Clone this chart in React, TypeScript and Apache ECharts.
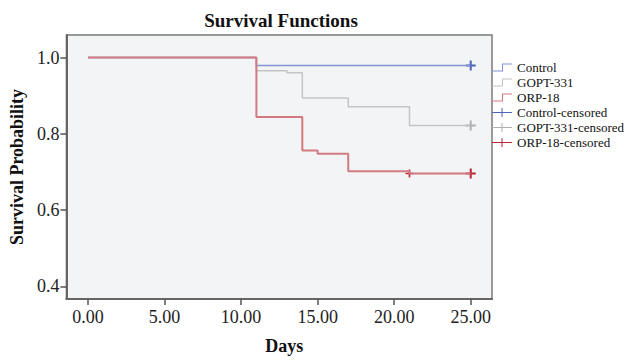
import React, { useEffect, useRef } from "react";
import * as echarts from "echarts";

const controlSteps: [number, number][] = [[0, 1.0], [11, 0.979], [25, 0.979]];
const goptSteps: [number, number][] = [[0, 1.0], [11, 0.965], [13, 0.96], [14, 0.894], [17, 0.871], [21, 0.822], [25, 0.822]];
const orpSteps: [number, number][] = [[0, 1.0], [11, 0.844], [14, 0.756], [15, 0.748], [17, 0.702], [21, 0.696], [25, 0.696]];

const controlCensored: [number, number][] = [[25, 0.979]];
const goptCensored: [number, number][] = [[25, 0.822]];
const orpCensored: [number, number][] = [[21, 0.696], [25, 0.696]];

const xTicks = [0, 5, 10, 15, 20, 25];
const yTicks = [0.4, 0.6, 0.8, 1.0];

const seriesNames = ["Control", "GOPT-331", "ORP-18", "Control-censored", "GOPT-331-censored", "ORP-18-censored"];

const FONT = "Liberation Serif";
const STEP_ICON = "path://M0,7H10V0H20V1H11V8H0Z";
const PLUS_ICON = "path://M0,4H20V5H0Z M9.5,0H10.5V9H9.5Z";
const PLUS_SYMBOL = "path://M4,0H6V4H10V6H6V10H4V6H0V4H4Z";

export default function App() {
  const ref = useRef<HTMLDivElement>(null);
  useEffect(() => {
    if (!ref.current) return;
    const chart = echarts.init(ref.current, null, { renderer: "svg" });
    const lineColors = ["#8494d4", "#c4c4c4", "#d27a82"];
    const censorColors = ["#4c63b6", "#b0b0b0", "#b82434"];
    chart.setOption({
      animation: false,
      backgroundColor: "#ffffff",
      title: {
        text: "Survival Functions",
        left: 276,
        textAlign: "center",
        top: 6,
        textStyle: { fontFamily: FONT, fontSize: 19, fontWeight: "bold", color: "#111" },
      },
      legend: {
        orient: "vertical",
        left: 492,
        top: 61,
        itemWidth: 20,
        itemHeight: 9,
        itemGap: 2,
        padding: 0,
        textStyle: { fontFamily: FONT, fontSize: 13, color: "#111" },
        data: seriesNames.map((n, i) => ({ name: n, icon: i < 3 ? STEP_ICON : PLUS_ICON })),
      },
      grid: {
        left: 64,
        top: 35,
        right: 137,
        bottom: 59,
        show: true,
        backgroundColor: "#f3f4f6",
        borderColor: "#7a7a7a",
        borderWidth: 1.5,
      },
      xAxis: {
        type: "value",
        min: -1.41,
        max: 26.39,
        name: "Days",
        nameLocation: "middle",
        nameGap: 38,
        nameTextStyle: { fontFamily: FONT, fontSize: 18, fontWeight: "bold", color: "#111", padding: [0, 0, 0, 10] },
        axisLine: { show: true, onZero: false, lineStyle: { color: "#666", width: 2 } },
        axisTick: { show: true, customValues: xTicks, length: 6, lineStyle: { color: "#555", width: 1.5 } },
        axisLabel: {
          customValues: xTicks,
          formatter: (v: number) => v.toFixed(2),
          fontFamily: FONT,
          fontSize: 18,
          color: "#222",
          margin: 9,
        },
        splitLine: { show: false },
      },
      yAxis: {
        type: "value",
        min: 0.367,
        max: 1.059,
        name: "Survival Probability",
        nameLocation: "middle",
        nameGap: 38,
        nameTextStyle: { fontFamily: FONT, fontSize: 18, fontWeight: "bold", color: "#111" },
        axisLine: { show: true, onZero: false, lineStyle: { color: "#666", width: 2 } },
        axisTick: { show: true, customValues: yTicks, length: 6, lineStyle: { color: "#555", width: 1.5 } },
        axisLabel: {
          customValues: yTicks,
          formatter: (v: number) => v.toFixed(1),
          fontFamily: FONT,
          fontSize: 18,
          color: "#222",
          margin: 7,
        },
        splitLine: { show: false },
      },
      series: [
        { name: seriesNames[0], type: "line", step: "end", data: controlSteps, showSymbol: false, color: lineColors[0], lineStyle: { width: 1.5, color: lineColors[0] } },
        { name: seriesNames[1], type: "line", step: "end", data: goptSteps, showSymbol: false, color: lineColors[1], lineStyle: { width: 1.5, color: lineColors[1] } },
        { name: seriesNames[2], type: "line", step: "end", data: orpSteps, showSymbol: false, color: lineColors[2], lineStyle: { width: 2, color: lineColors[2] } },
        { name: seriesNames[3], type: "scatter", data: controlCensored, symbol: PLUS_SYMBOL, symbolSize: 10, color: censorColors[0], itemStyle: { color: censorColors[0], opacity: 1 } },
        { name: seriesNames[4], type: "scatter", data: goptCensored, symbol: PLUS_SYMBOL, symbolSize: 10, color: censorColors[1], itemStyle: { color: censorColors[1], opacity: 1 } },
        { name: seriesNames[5], type: "scatter", data: orpCensored, symbol: PLUS_SYMBOL, symbolSize: (v: number[]) => (v[0] < 24 ? 8 : 10), color: censorColors[2], itemStyle: { color: censorColors[2], opacity: 1 } },
      ],
    });
    return () => chart.dispose();
  }, []);
  return <div ref={ref} style={{ position: "absolute", left: 0, top: 0, width: 629, height: 360 }} />;
}
